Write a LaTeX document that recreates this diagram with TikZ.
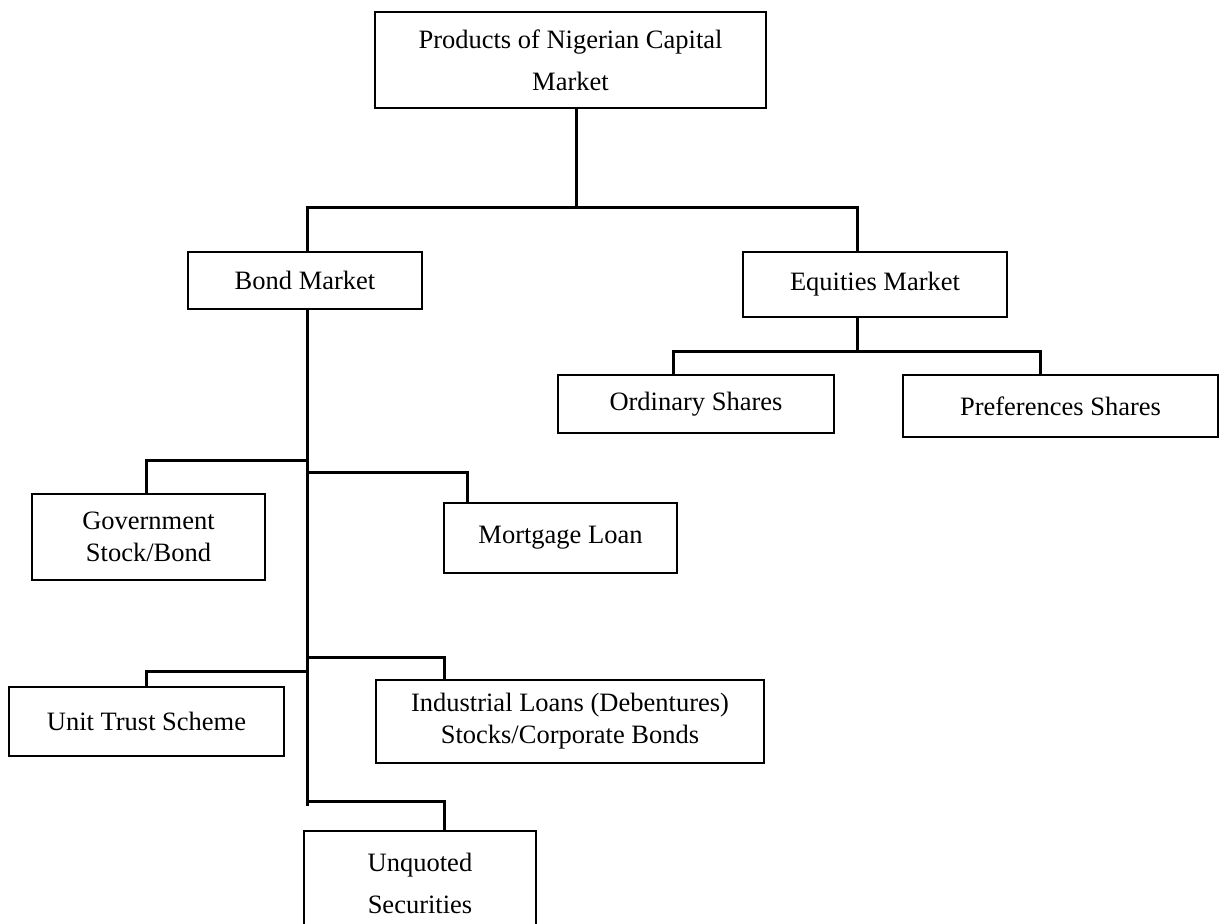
\documentclass[tikz,border=0pt]{standalone}
\usepackage{fontspec}
\setmainfont{Liberation Serif}
\tikzset{
  box/.style={draw, line width=1.5pt, align=center, inner sep=0pt, font=\fontsize{26.5}{32}\selectfont},
  conn/.style={line width=3pt}
}
\begin{document}
\begin{tikzpicture}[x=1pt, y=-1pt]
\useasboundingbox (0,0) rectangle (1219,924);
% Kaesten
\node[box, minimum width=391, minimum height=96] (top) at (570.5,60) {Products of Nigerian Capital\\[10pt]Market};
\node[box, minimum width=234, minimum height=57] (bond) at (305,280.5) {Bond Market};
\node[box, minimum width=264, minimum height=65] (equit) at (875,284.5) {Equities Market};
\node[box, minimum width=276, minimum height=58] (ord) at (696,404) {Ordinary Shares};
\node[box, minimum width=315, minimum height=62] (pref) at (1060.5,406) {Preferences Shares};
\node[box, minimum width=233, minimum height=86] (gov) at (148.5,537) {Government\\Stock/Bond};
\node[box, minimum width=233, minimum height=70] (mort) at (560.5,538) {Mortgage Loan};
\node[box, minimum width=275, minimum height=69] (unit) at (146.5,721.5) {Unit Trust Scheme};
\node[box, minimum width=388, minimum height=83] (ind) at (570,721.5) {Industrial Loans (Debentures)\\Stocks/Corporate Bonds};
\node[box, minimum width=232, minimum height=104] (unq) at (420,883) {Unquoted\\[10pt]Securities};
% Knickpunkte
\coordinate (j0) at (576,207);
\coordinate (jb) at (307,207);
\coordinate (je) at (857,207);
\coordinate (je2) at (857,351);
\coordinate (jo) at (673,351);
\coordinate (jp) at (1040,351);
\coordinate (bend) at (307,806);
\coordinate (jg) at (146,460);
\coordinate (jm) at (467,472);
\coordinate (ju) at (146,671);
\coordinate (ji) at (444,657);
\coordinate (jq) at (444,801);
% oberste Ebene
\draw[conn] (top.south -| j0) -- (j0);
\draw[conn] (jb |- bond.north) -- (jb) -- (je) -- (je |- equit.north);
% Equities
\draw[conn] (je2 |- equit.south) -- (je2);
\draw[conn] (jo |- ord.north) -- (jo) -- (jp) -- (jp |- pref.north);
% Bond
\draw[conn] (bend |- bond.south) -- (bend);
\draw[conn] (jg -| bend) -- (jg) -- (jg |- gov.north);
\draw[conn] (jm -| bend) -- (jm) -- (jm |- mort.north);
\draw[conn] (ju -| bend) -- (ju) -- (ju |- unit.north);
\draw[conn] (ji -| bend) -- (ji) -- (ji |- ind.north);
\draw[conn] (jq -| bend) -- (jq) -- (jq |- unq.north);
\end{tikzpicture}
\end{document}
